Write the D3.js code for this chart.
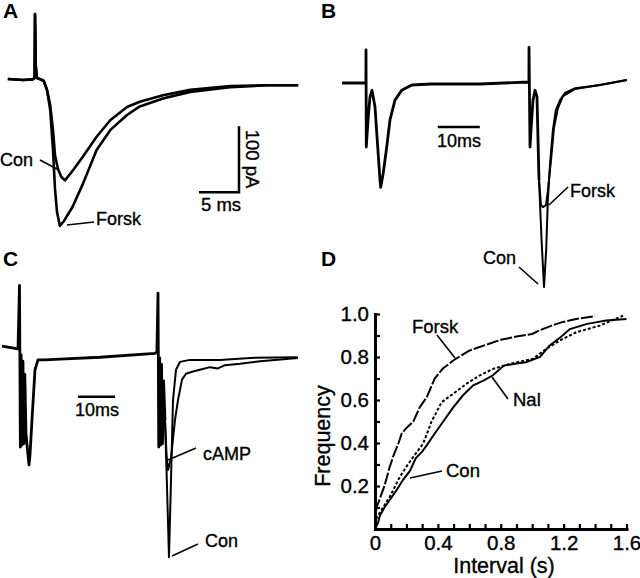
<!DOCTYPE html>
<html>
<head>
<meta charset="utf-8">
<script src="https://cdn.jsdelivr.net/npm/d3@7"></script>
<style>
  body { margin: 0; background: #fff; }
  svg { display: block; }
  text { font-family: 'Liberation Sans', Arial, Helvetica, sans-serif; fill: #000; }
</style>
</head>
<body>
<svg id="fig" width="640" height="578"></svg>
<script>
// ---- data: [time ms, current pA] ----
var aCon = [[-3.4,1.5],[-1.5,0],[-0.3,1],[-0.05,3],[0,100],[0.1,20],[0.25,3],[0.6,1.5],[1.1,-1.5],
  [1.5,-15],[1.9,-38],[2.25,-76],[2.5,-114],[2.9,-136],[3.3,-147],[3.75,-152],[4.8,-136],[6.0,-116],
  [7.7,-86],[9.4,-61],[11.5,-41],[13.1,-33],[16.0,-23],[19.4,-15],[24.4,-9],[29,-8],[32.9,-8]];
var aForsk = [[-3.4,1.5],[-1.5,0],[-0.3,1],[-0.05,3],[0,100],[0.1,20],[0.25,3],[0.6,1.5],[1.1,-1.5],
  [1.5,-15],[1.9,-45],[2.25,-106],[2.5,-165],[2.75,-200],[3.1,-221],[3.6,-214],[4.7,-192],[6.0,-157],
  [7.7,-106],[9.4,-76],[11.5,-53],[13.1,-40],[16.0,-28],[19.4,-18],[24.4,-11],[29,-8],[32.9,-8]];

var bShared = [[-5.7,0],[-0.02,0],[0,50],[0.07,-97],[0.48,-56],[0.95,-21],[1.43,-11],[2.14,-36],
  [2.79,-97],[3.33,-147],[3.5,-158],[4.12,-136],[4.93,-97],[5.71,-56],[6.9,-26],[8.5,-11],
  [10.9,-3],[15.6,-1.5],[27.1,-1.5],[38.6,1.5],[38.79,1.5],[38.81,54],[39.05,-97],[39.29,-71],
  [39.76,-26],[40.24,-11],[40.71,-21],[41.19,-147]];
var bCon = [[41.19,-147],[41.8,-238],[42.38,-309],[42.9,-253],[43.3,-177],[43.8,-124],[44.5,-71],
  [45.2,-41],[46.2,-26],[47.4,-15],[49.8,-8],[55.7,-3],[62.1,4.5]];
var bForsk = [[41.19,-147],[41.67,-185],[42.14,-188],[42.86,-185],[43.33,-162],[44.05,-117],
  [44.76,-68],[45.7,-38],[46.9,-20],[49.8,-9],[55.7,-3],[62.1,4.5]];

var cShared = [[-4.86,3],[-0.54,-1.5],[-0.14,95],[0.1,-150],[0.3,-10],[0.55,-147],[0.8,-20],
  [1.05,-145],[1.3,-40],[1.62,-130],[2.16,-162],[2.43,-177],[2.7,-162],[3.24,-109],[4.05,-33],[4.86,-18],
  [6.76,-18],[10.8,-17],[21.6,-14],[36.5,-8],[37.0,-6],[37.3,83],[37.5,-150],[37.75,-15],
  [38.0,-147],[38.25,-25],[38.5,-145],[38.8,-50],[39.19,-109]];
var cCon = [[39.19,-109],[39.6,-185],[40.27,-317],[40.81,-200],[41.35,-79],[42.16,-33],[43.24,-21],
  [45.9,-18],[54.05,-18],[62.2,-15],[75.1,-14]];
var cCamp = [[39.19,-109],[39.6,-162],[40.0,-185],[40.81,-167],[41.89,-109],[42.7,-79],[43.78,-48],
  [44.86,-39],[46.5,-36],[48.6,-33],[51.35,-29],[53.5,-31],[55.4,-26],[59.5,-24],[64.9,-20],[75.1,-15]];

// ---- panel D cumulative distributions: [interval s, frequency] ----
var dForsk = [[0,0.02],[0.01,0.1],[0.03,0.14],[0.06,0.2],[0.09,0.28],[0.117,0.34],[0.15,0.4],
  [0.17,0.444],[0.2,0.47],[0.244,0.5],[0.286,0.568],[0.33,0.614],[0.38,0.7],[0.43,0.745],[0.5,0.785],
  [0.6,0.83],[0.7,0.855],[0.8,0.88],[0.9,0.895],[1.0,0.907],[1.05,0.925],[1.12,0.945],[1.18,0.96],
  [1.28,0.977],[1.4,0.99]];
var dCon = [[0,0],[0.02,0.03],[0.03,0.06],[0.06,0.1],[0.095,0.136],[0.138,0.182],[0.18,0.23],
  [0.222,0.27],[0.26,0.33],[0.3,0.36],[0.33,0.39],[0.38,0.444],[0.434,0.5],[0.5,0.568],[0.56,0.622],
  [0.625,0.668],[0.69,0.69],[0.75,0.715],[0.82,0.76],[0.9,0.77],[0.96,0.776],[1.05,0.8],[1.11,0.853],
  [1.18,0.892],[1.24,0.93],[1.35,0.954],[1.47,0.97],[1.6,0.977]];
var dNal = [[0,0],[0.01,0.05],[0.03,0.075],[0.06,0.11],[0.095,0.151],[0.159,0.244],[0.2,0.29],
  [0.244,0.336],[0.307,0.398],[0.36,0.5],[0.424,0.59],[0.5,0.63],[0.583,0.676],[0.668,0.715],
  [0.752,0.745],[0.858,0.768],[1.006,0.792],[1.09,0.838],[1.176,0.877],[1.28,0.915],[1.43,0.946],
  [1.578,0.992]];

var xTicksD = d3.range(0, 17).map(function(i) { return i / 10; });
var yTicksD = d3.range(1, 11).map(function(i) { return i / 10; });

var svg = d3.select("#fig");
svg.append("rect").attr("width", 640).attr("height", 578).attr("fill", "#fff");

// scales (ms / pA) for each trace panel
var xA = d3.scaleLinear().domain([0, 5]).range([35, 75]);
var yA = d3.scaleLinear().domain([0, -100]).range([80, 146]);
var xB = d3.scaleLinear().domain([0, 10]).range([366, 408]);
var yB = d3.scaleLinear().domain([0, -100]).range([83, 149]);
var xC = d3.scaleLinear().domain([0, 10]).range([20, 57]);
var yC = d3.scaleLinear().domain([0, -100]).range([348, 414]);

function trace(data, x, y, w) {
  var line = d3.line().x(function(d) { return x(d[0]); }).y(function(d) { return y(d[1]); });
  svg.append("path").attr("d", line(data))
    .attr("fill", "none").attr("stroke", "#000")
    .attr("stroke-width", w).attr("stroke-linejoin", "round");
}

function label(txt, x, y, size, bold) {
  return svg.append("text").attr("x", x).attr("y", y)
    .style("font-size", size + "px").style("font-weight", bold ? "bold" : "normal")
    .attr("stroke", "#000").attr("stroke-width", bold ? 0 : 0.35).text(txt);
}
function pointer(x1, y1, x2, y2) {
  svg.append("line").attr("x1", x1).attr("y1", y1).attr("x2", x2).attr("y2", y2)
    .attr("stroke", "#000").attr("stroke-width", 1.6);
}

// panel letters
label("A", 3, 18, 21, true);
label("B", 321, 18, 21, true);
label("C", 3, 266, 21, true);
label("D", 321, 266, 21, true);

// ---- A ----
trace(aForsk, xA, yA, 2.6);
trace(aCon, xA, yA, 2.6);
// scale bar 5 ms / 100 pA
svg.append("path")
  .attr("d", "M" + xA(20.5) + "," + yA(-170) + "H" + xA(25.5) + "V" + yA(-70))
  .attr("fill", "none").attr("stroke", "#000").attr("stroke-width", 2.5);
label("5 ms", 221, 211, 18.5).attr("text-anchor", "middle");
label("100 pA", 0, 0, 18.5).attr("text-anchor", "middle")
  .attr("transform", "translate(246,159) rotate(90)");
label("Con", 0, 166, 18);
pointer(40, 160, 57, 169);
label("Forsk", 96, 225, 18);
pointer(67, 225, 94, 222);

// ---- B ----
trace(bShared, xB, yB, 2.8);
trace(bForsk, xB, yB, 2);
trace(bCon, xB, yB, 2);
svg.append("line").attr("x1", xB(17.1)).attr("x2", xB(27.1))
  .attr("y1", yB(-66.7)).attr("y2", yB(-66.7)).attr("stroke", "#000").attr("stroke-width", 2.5);
label("10ms", 459, 147, 18).attr("text-anchor", "middle");
label("Forsk", 570, 197, 18);
pointer(549, 205, 568, 187);
label("Con", 483, 264, 18);
pointer(519, 267, 538, 284);

// ---- C ----
trace(cShared, xC, yC, 2.8);
trace(cCamp, xC, yC, 2);
trace(cCon, xC, yC, 2);
svg.append("line").attr("x1", xC(15.7)).attr("x2", xC(25.7))
  .attr("y1", yC(-74)).attr("y2", yC(-74)).attr("stroke", "#000").attr("stroke-width", 2.5);
label("10ms", 97, 416, 18).attr("text-anchor", "middle");
label("cAMP", 203, 460, 18);
pointer(168, 460, 196, 448);
label("Con", 205, 547, 18);
pointer(172, 556, 198, 544);

// ---- D ----
var xD = d3.scaleLinear().domain([0, 1.6]).range([375, 626.5]);
var yD = d3.scaleLinear().domain([0, 1]).range([529, 314]);

var lineD = d3.line().x(function(d) { return xD(d[0]); }).y(function(d) { return yD(d[1]); });
[[dForsk, "12,2"], [dNal, "3,2"], [dCon, null]].forEach(function(s) {
  svg.append("path").attr("d", lineD(s[0]))
    .attr("fill", "none").attr("stroke", "#000").attr("stroke-width", 2)
    .attr("stroke-dasharray", s[1]);
});

var fmt = d3.format(".1f");
var gx = svg.append("g").attr("transform", "translate(0,529)")
  .call(d3.axisBottom(xD).tickValues(xTicksD).tickSizeInner(-5).tickSizeOuter(0).tickPadding(6)
    .tickFormat(function(d) {
      var k = Math.round(d * 10);
      if (k % 4 !== 0) return "";
      return k === 0 ? "0" : fmt(d);
    }));
var gy = svg.append("g").attr("transform", "translate(375,0)")
  .call(d3.axisLeft(yD).tickValues(yTicksD).tickSizeInner(-5).tickSizeOuter(0).tickPadding(6)
    .tickFormat(function(d) { return Math.round(d * 10) % 2 === 0 ? fmt(d) : ""; }));
[gx, gy].forEach(function(g) {
  g.select(".domain").attr("stroke-width", 3).attr("stroke-linecap", "square");
  g.selectAll(".tick line").attr("stroke-width", 2.2);
  g.selectAll(".tick text").style("font-size", "20.5px")
    .style("font-family", "'Liberation Sans', Arial, Helvetica, sans-serif")
    .attr("stroke", "#000").attr("stroke-width", 0.35);
});

label("Interval (s)", 504, 573, 21.5).attr("text-anchor", "middle");
label("Frequency", 0, 0, 21.5).attr("text-anchor", "middle")
  .attr("transform", "translate(330,436) rotate(-90)");
label("Forsk", 412, 333, 18.5);
pointer(437, 335, 455, 358);
label("Nal", 513, 406, 18.5);
pointer(492, 377, 508, 399);
label("Con", 446, 477, 18.5);
pointer(442, 471, 410, 478);
</script>
</body>
</html>
